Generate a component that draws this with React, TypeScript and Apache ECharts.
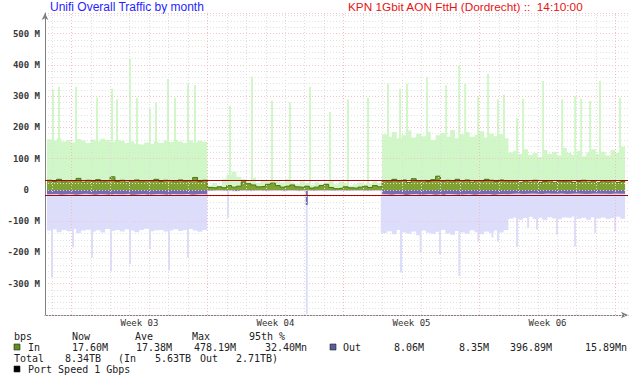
import React, { useEffect, useRef } from 'react';
import * as echarts from 'echarts';

// x axis in days from the left edge of the plot
const SEG_START = 0.1;
const SEG_LEN = 0.25;
const FIRST_DAY_LINE = 0.36;
const DAY_COUNT = 30;
const WEEK_LABELS = ['Week 03', 'Week 04', 'Week 05', 'Week 06'];

const TITLE_LEFT = 'Unifi Overall Traffic by month';
const TITLE_RIGHT = 'KPN 1Gbit AON FttH (Dordrecht) ::\u00a0 14:10:00';

// In maximum (light green), M bit/s, 6-hour steps, four periods
const inMaxA = [162, 158, 165, 155, 160, 152, 163, 158, 150, 161, 156, 164, 159, 153, 160, 157, 150, 155, 148, 145, 152, 147, 155, 150, 158, 153, 160, 155, 150, 158, 152, 157, 154];
const inMaxB = [15, 22, 14, 35, 48, 58, 42, 34, 28, 38, 22, 32, 28, 30, 30, 24, 35, 24, 18, 28, 22, 16, 25, 20, 24, 30, 18, 26, 22, 14, 18, 24, 18, 20, 28, 22];
const inMaxC = [178, 170, 185, 165, 175, 190, 168, 180, 172, 186, 160, 175, 182, 170, 192, 165, 178, 185, 170, 176, 188, 168, 180, 172, 178, 165];
const inMaxD = [120, 125, 115, 130, 112, 118, 105, 128, 115, 122, 110, 135, 118, 112, 125, 108, 120, 130, 115, 122, 110, 128, 118, 138];

// In average (dark green)
const inAvgA = [31, 27, 34, 26, 30, 29, 37, 25, 31, 28, 33, 26, 30, 42, 27, 31, 25, 29, 32, 26, 30, 28, 34, 27, 31, 29, 26, 32, 28, 30, 40, 27, 31];
const inAvgB = [8, 6, 10, 7, 14, 9, 12, 26, 20, 16, 10, 12, 18, 22, 14, 9, 12, 16, 10, 8, 12, 6, 9, 14, 18, 8, 4, 6, 10, 7, 5, 9, 12, 8, 14, 10];
const inAvgC = [30, 26, 34, 28, 32, 24, 36, 29, 31, 27, 33, 44, 28, 31, 26, 34, 29, 32, 25, 30, 28, 34, 31, 27, 32, 29];
const inAvgD = [26, 29, 23, 28, 25, 31, 24, 27, 30, 23, 28, 26, 29, 24, 27, 31, 25, 28, 23, 29, 26, 30, 24, 27];

// Out average (dark purple), drawn below zero
const outAvgA = [14, 13, 15, 14, 13, 15, 14, 12, 14, 15, 13, 14, 15, 13, 14, 14, 12, 15, 14, 13, 15, 14, 13, 14, 15, 13, 14, 14, 13, 15, 14, 13, 14];
const outAvgB = [2, 1, 1, 2, 1, 3, 1, 1, 2, 1, 1, 2, 1, 1, 1, 2, 1, 1, 2, 1, 1, 2, 1, 1, 1, 2, 1, 1, 2, 1, 1, 1, 2, 1, 1, 1];
const outAvgC = [14, 15, 13, 14, 16, 14, 13, 15, 14, 13, 15, 14, 16, 13, 14, 15, 14, 13, 15, 14, 14, 13, 15, 14, 13, 14];
const outAvgD = [12, 11, 13, 12, 11, 12, 13, 11, 12, 12, 11, 13, 12, 11, 12, 13, 12, 11, 12, 12, 13, 11, 12, 12];

// Out maximum (light purple), drawn below zero
const outMaxA = [130, 126, 135, 128, 132, 125, 138, 130, 127, 134, 129, 136, 125, 131, 128, 133, 126, 130, 135, 128, 124, 132, 129, 127, 133, 130, 126, 131, 128, 125, 130, 134, 128];
const outMaxB = [3, 2, 4, 3, 2, 5, 3, 2, 4, 3, 2, 3, 4, 2, 3, 5, 2, 3, 4, 2, 3, 3, 2, 4, 3, 2, 3, 4, 2, 3, 3, 2, 4, 3, 2, 3];
const outMaxC = [138, 132, 142, 128, 136, 140, 133, 145, 130, 137, 141, 134, 128, 139, 143, 131, 136, 140, 129, 135, 142, 133, 138, 130, 136, 128];
const outMaxD = [92, 88, 95, 90, 86, 93, 89, 96, 87, 91, 94, 88, 90, 85, 92, 89, 95, 87, 91, 88, 93, 90, 86, 92];

// short peaks
const inSpikeDays = [0.41, 0.72, 1.6, 2.68, 3.45, 3.71, 4.37, 4.73, 5.4, 5.71, 6.33, 6.69, 7.36, 7.72, 9.52, 10.65, 11.68, 12.61, 13.64, 14.67, 15.59, 16.62, 17.65, 18.27, 18.63, 19.66, 20.64, 21.31, 21.62, 22.29, 22.8, 23.31, 23.62, 24.29, 24.6, 25.63, 26.61, 27.28, 27.59, 28.05, 28.56, 29.59];
const inSpikeVals = [320, 330, 330, 295, 324, 290, 420, 295, 260, 280, 355, 295, 340, 335, 270, 362, 286, 280, 330, 250, 290, 295, 340, 324, 340, 360, 335, 397, 340, 300, 371, 290, 305, 230, 292, 349, 290, 300, 292, 285, 349, 295];
const outSpikeDays = [0.36, 1.44, 2.42, 3.4, 4.37, 5.4, 6.38, 7.36, 9.42, 13.47, 17.33, 18.32, 19.33, 20.33, 21.32, 22.3, 23.02, 23.31, 24.29, 24.86, 25.32, 26.35, 27.28, 28.31, 29.34];
const outSpikeVals = [279, 184, 216, 260, 238, 190, 257, 216, 89, 397, 137, 264, 200, 206, 275, 165, 152, 165, 181, 121, 127, 143, 181, 137, 133];
const outAvgSpikeDays = [13.47];
const outAvgSpikeVals = [48];

const IN_95 = 32.4;
const OUT_95 = 15.89;

const STAT_HEADERS = ['bps', 'Now', 'Ave', 'Max', '95th %'];
const IN_STATS = ['17.60M', '17.38M', '478.19M', '32.40Mn'];
const OUT_STATS = ['8.06M', '8.35M', '396.89M', '15.89Mn'];
const TOTAL_ALL = '8.34TB';
const TOTAL_IN = '5.63TB';
const TOTAL_OUT = '2.71TB';
const PORT_SPEED = 'Port Speed 1 Gbps';

const MONO = '"DejaVu Sans Mono", monospace';
const SANS = '"Liberation Sans", Arial, sans-serif';

const C_LGREEN = '#d0f8c6';
const C_DGREEN = '#7fa233';
const C_GLINE = '#4b7419';
const C_LPURPLE = '#dcdcfc';
const C_DPURPLE = '#7070b0';

function stepData(parts: number[][], sign: number) {
  const vals = parts.flat();
  const pts = vals.map((v, i) => [SEG_START + i * SEG_LEN, sign * v]);
  pts.push([SEG_START + vals.length * SEG_LEN, sign * vals[vals.length - 1]]);
  return pts;
}

function area(data: number[][], color: string, line?: string) {
  return {
    type: 'line',
    data,
    step: 'end',
    symbol: 'none',
    showSymbol: false,
    silent: true,
    lineStyle: line ? { color: line, width: 1 } : { width: 0, opacity: 0 },
    areaStyle: { color, opacity: 1 },
  };
}

function spikes(days: number[], vals: number[], sign: number, color: string, w: number) {
  return {
    type: 'bar',
    data: days.map((d, i) => [d, sign * vals[i]]),
    barWidth: w,
    barGap: '-100%',
    silent: true,
    itemStyle: { color },
  };
}

function txt(id: string, text: string, x: number, y: number, font: string, fill: string, align = 'left') {
  return {
    type: 'text',
    id,
    x,
    y,
    silent: true,
    style: { text, font, fill, align, verticalAlign: 'middle' },
  };
}

function sq(id: string, x: number, y: number, fill: string) {
  return {
    type: 'rect',
    id,
    silent: true,
    shape: { x, y, width: 6, height: 6 },
    style: { fill, stroke: '#222', lineWidth: 0.6 },
  };
}

export default function App() {
  const ref = useRef<HTMLDivElement>(null);

  useEffect(() => {
    const chart = echarts.init(ref.current!, null, { renderer: 'svg' });

    const dayLines = Array.from({ length: DAY_COUNT }, (_, k) => FIRST_DAY_LINE + k);
    const weekCenters = WEEK_LABELS.map((_, i) => FIRST_DAY_LINE + 1 + 3.5 + 7 * i);

    const build = (weekPx: number[]) => {
      const legendFont = '10px ' + MONO;
      const lc = '#222';
      const hdrX = [14, 72, 135, 192, 249];
      const inX = [72, 136, 194, 265];
      const outX = [394, 459, 510, 585];
      const graphic: any[] = [
        txt('t1', TITLE_LEFT, 50, 7, '12px ' + SANS, '#1f1fff'),
        txt('t2', TITLE_RIGHT, 348, 7, '11.8px ' + SANS, '#e81414'),
        ...STAT_HEADERS.map((h, i) => txt('h' + i, h, hdrX[i], 336, legendFont, lc)),
        sq('sqIn', 14, 344, '#5f8f1f'),
        txt('lin', 'In', 28, 347, legendFont, lc),
        ...IN_STATS.map((s, i) => txt('is' + i, s, inX[i], 347, legendFont, lc)),
        sq('sqOut', 330, 344, '#5c5c9c'),
        txt('lout', 'Out', 343, 347, legendFont, lc),
        ...OUT_STATS.map((s, i) => txt('os' + i, s, outX[i], 347, legendFont, lc)),
        txt('tt', 'Total', 14, 358, legendFont, lc),
        txt('ta', TOTAL_ALL, 65, 358, legendFont, lc),
        txt('tin', '(In', 118, 358, legendFont, lc),
        txt('tinv', TOTAL_IN, 155, 358, legendFont, lc),
        txt('tout', 'Out', 200, 358, legendFont, lc),
        txt('toutv', TOTAL_OUT + ')', 236, 358, legendFont, lc),
        sq('sqPort', 14, 366, '#000'),
        txt('port', PORT_SPEED, 28, 369, legendFont, lc),
        ...weekPx.map((px, i) => txt('w' + i, WEEK_LABELS[i], px, 323, '9px ' + MONO, '#333', 'center')),
      ];

      return {
        animation: false,
        backgroundColor: '#ffffff',
        grid: { left: 45, right: 12, top: 13, bottom: 65, containLabel: false },
        xAxis: {
          type: 'value',
          min: 0,
          max: 30,
          axisLine: {
            show: true,
            onZero: false,
            symbol: ['none', 'arrow'],
            symbolSize: [5, 7],
            lineStyle: { color: '#808080', width: 1 },
          },
          axisTick: { show: false },
          axisLabel: { show: false },
          splitLine: { show: false },
        },
        yAxis: {
          type: 'value',
          min: -400,
          max: 566,
          interval: 100,
          z: 3,
          axisLine: {
            show: true,
            symbol: ['none', 'arrow'],
            symbolSize: [5, 7],
            lineStyle: { color: '#808080', width: 1 },
          },
          axisTick: { show: false },
          axisLabel: {
            margin: 5,
            fontFamily: MONO,
            fontSize: 9,
            fontWeight: 'bold',
            color: '#3a3a3a',
            formatter: (v: number) =>
              v === 0 ? '{z|0}' : v % 100 === 0 && v > -400 ? `${v} M` : '',
            rich: {
              z: { fontFamily: MONO, fontSize: 9, fontWeight: 'bold', color: '#3a3a3a', padding: [0, 11, 0, 0] },
            },
          },
          splitLine: { show: true, lineStyle: { color: '#f7c4c4', type: [1, 2], width: 1 } },
          minorTick: { show: false, splitNumber: 5 },
          minorSplitLine: { show: true, lineStyle: { color: '#e2e2e2', type: [1, 2], width: 1 } },
        },
        series: [
          {
            ...area(stepData([inMaxA, inMaxB, inMaxC, inMaxD], 1), C_LGREEN),
            markLine: {
              silent: true,
              symbol: ['none', 'none'],
              label: { show: false },
              data: dayLines.map((d, k) => ({
                xAxis: d,
                lineStyle: (k - 1) % 7 === 0
                  ? { color: '#f5bcbc', type: [1, 2], width: 1 }
                  : { color: '#dedede', type: [1, 2], width: 1 },
              })),
            },
          },
          area(stepData([outMaxA, outMaxB, outMaxC, outMaxD], -1), C_LPURPLE),
          spikes(inSpikeDays, inSpikeVals, 1, C_LGREEN, 2),
          spikes(outSpikeDays, outSpikeVals, -1, C_LPURPLE, 2),
          area(stepData([inAvgA, inAvgB, inAvgC, inAvgD], 1), C_DGREEN, C_GLINE),
          area(stepData([outAvgA, outAvgB, outAvgC, outAvgD], -1), C_DPURPLE),
          {
            ...spikes(outAvgSpikeDays, outAvgSpikeVals, -1, C_DPURPLE, 2),
            markLine: {
              silent: true,
              symbol: ['none', 'none'],
              label: { show: false },
              lineStyle: { color: '#b40000', type: 'solid', width: 1 },
              data: [{ yAxis: IN_95 }, { yAxis: -OUT_95 }],
            },
          },
        ],
        graphic,
      };
    };

    chart.setOption(build([]) as any);
    const weekPx = weekCenters.map((d) => chart.convertToPixel({ xAxisIndex: 0 }, d) as number);
    chart.setOption(build(weekPx) as any, true);

    return () => chart.dispose();
  }, []);

  return (
    <div
      ref={ref}
      style={{ position: 'absolute', left: 0, top: 0, width: 640, height: 380 }}
    />
  );
}
